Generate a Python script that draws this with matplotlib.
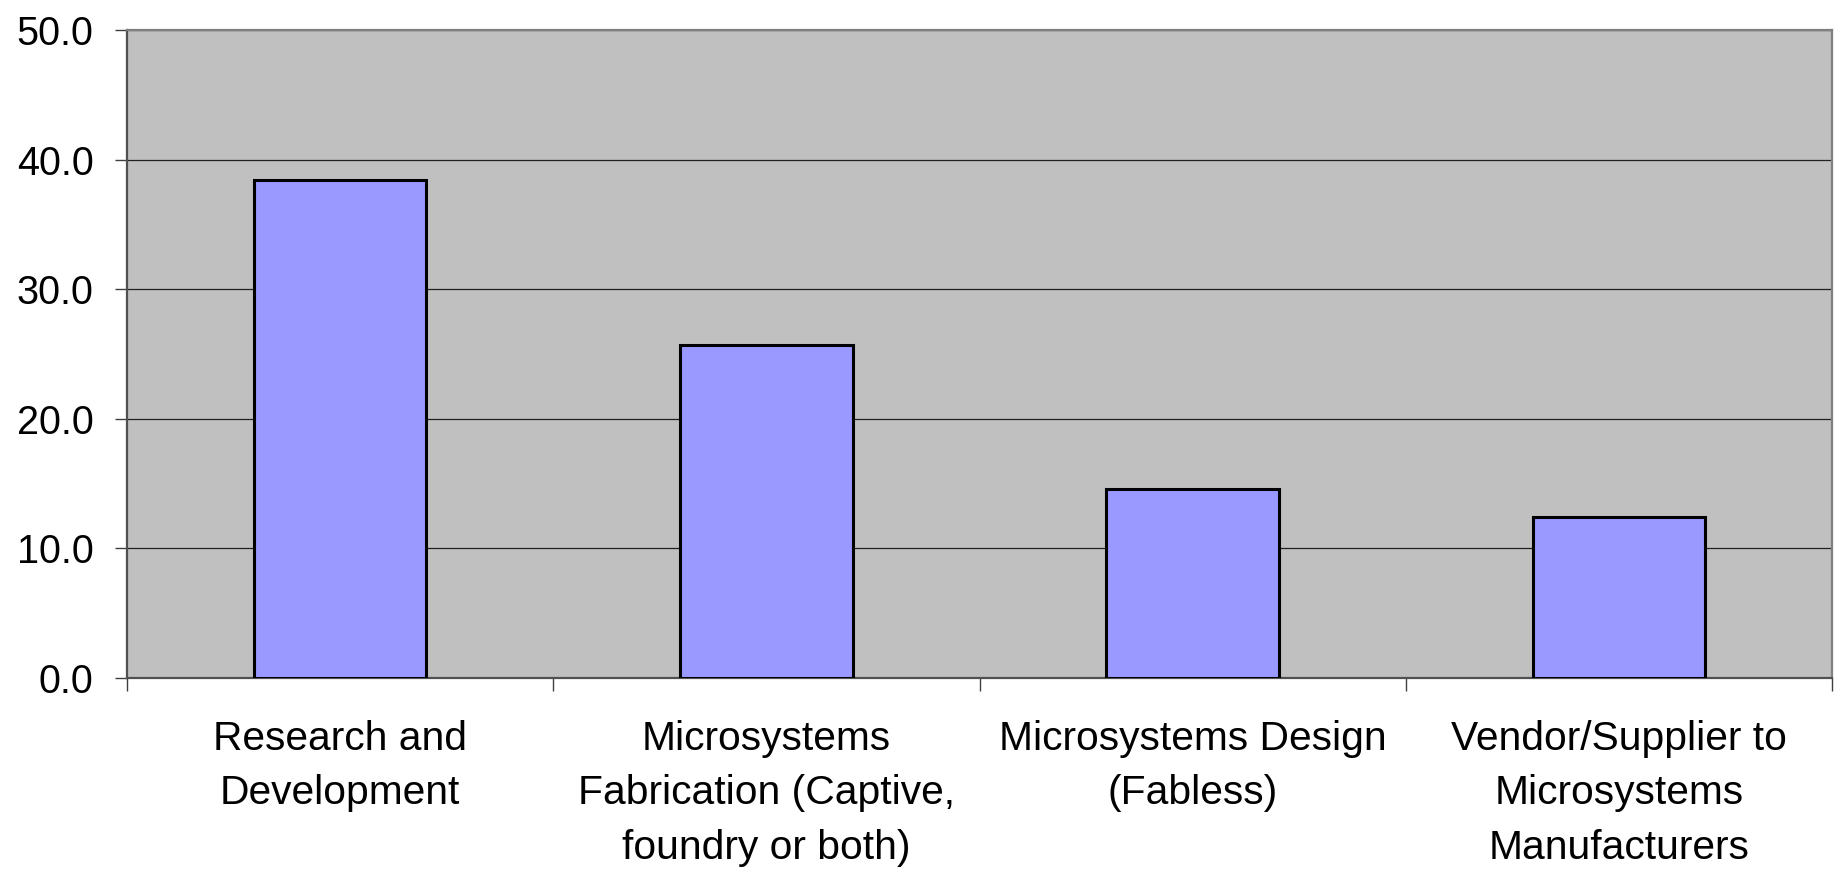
import matplotlib
matplotlib.use("Agg")
import matplotlib.pyplot as plt
import numpy as np

plt.rcParams['font.family'] = ['Liberation Sans', 'DejaVu Sans']

categories = [
    "Research and\nDevelopment",
    "Microsystems\nFabrication (Captive,\nfoundry or both)",
    "Microsystems Design\n(Fabless)",
    "Vendor/Supplier to\nMicrosystems\nManufacturers",
]
values = [38.4, 25.7, 14.6, 12.4]
y_ticks = [0, 10, 20, 30, 40, 50]

fig = plt.figure(figsize=(18.43, 8.69), dpi=100)
ax = fig.add_axes([127 / 1843, 1 - 678 / 869, (1832 - 127) / 1843, (678 - 30) / 869])

ax.set_facecolor('#C0C0C0')
x = np.arange(len(categories))
ax.bar(x, values, width=0.405, color='#9999FF', edgecolor='black', linewidth=2.2, zorder=3)

ax.set_xlim(-0.5, len(categories) - 0.5)
ax.set_ylim(0, 50)

ax.set_yticks(y_ticks)
ax.set_yticklabels([f"{v:.1f}" for v in y_ticks], fontsize=28.5)
ax.yaxis.grid(True, color='#202020', linewidth=0.9, zorder=1)
ax.set_axisbelow(True)

# category boundaries carry the tick marks; names sit centred between them
ax.set_xticks(np.arange(-0.5, len(categories), 1.0))
ax.set_xticklabels([])
ax.set_xticks(x, minor=True)
ax.set_xticklabels(categories, minor=True, fontsize=29.3, linespacing=1.55)
ax.tick_params(axis='x', which='minor', length=0, pad=30)
ax.tick_params(axis='x', which='major', length=9, width=1, color='#404040', direction='out')
ax.tick_params(axis='y', length=9, width=1, color='#404040', direction='out', pad=15)

for side in ('left', 'bottom'):
    ax.spines[side].set_color('#505050')
    ax.spines[side].set_linewidth(1.6)
for side in ('top', 'right'):
    ax.spines[side].set_color('#808080')
    ax.spines[side].set_linewidth(1.6)

fig.savefig('out.png', dpi=100, facecolor='white')
